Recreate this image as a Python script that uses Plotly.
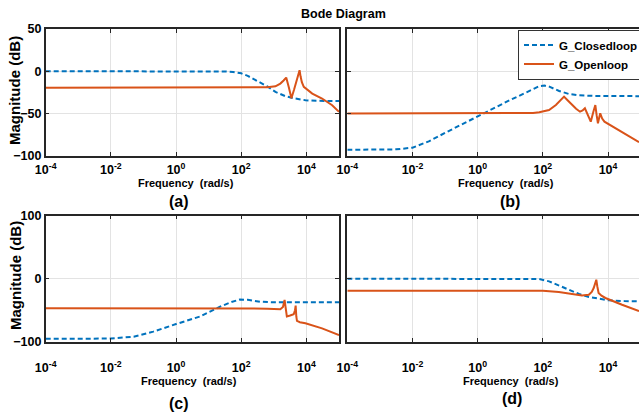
import numpy as np
import plotly.graph_objects as go

# ---- data: log10(frequency in rad/s) and magnitude in dB for each panel ----
# (a)
a_closed_lf = [-4, 1.0, 1.5, 1.75, 2.0, 2.2, 2.4, 2.6, 2.8, 3.05, 3.36, 3.66, 3.97, 4.3, 5.0]
a_closed_db = [0, 0, -0.3, -1, -2.5, -5.5, -9.5, -13.5, -18, -24.5, -29.6, -32.3, -34.3, -35, -35.3]
a_open_lf = [-4, 2.5, 2.8, 3.05, 3.2, 3.3, 3.38, 3.46, 3.54, 3.62, 3.70, 3.76, 3.79,
             3.82, 3.86, 3.92, 4.05, 4.18, 4.48, 4.79, 5.0]
a_open_db = [-19.5, -19.5, -19, -17.8, -14.6, -11, -7.5, -19, -32, -22, -12, -4, 1.2,
             -6, -13, -18.5, -23, -26.4, -32.3, -40.2, -48]

# (b)
b_closed_lf = [-4, -3, -2.5, -2, -1.5, -1, 0, 1, 1.5, 1.9, 2.05, 2.2, 2.5, 2.8, 3.1, 3.6, 4.95]
b_closed_db = [-93, -93, -92.5, -90.5, -83, -73, -53, -34, -25, -17.5, -17, -18.3, -23.4,
               -27, -28.5, -29.3, -29.5]
b_open_lf = [-4, 1.3, 1.7, 1.89, 2.19, 2.4, 2.55, 2.65, 2.75, 2.89, 3.02, 3.14, 3.22, 3.29,
             3.38, 3.47, 3.55, 3.61, 3.65, 3.69, 3.76, 3.82, 3.89, 4.1, 4.39, 4.86, 4.95]
b_open_db = [-50, -50, -49.5, -48.6, -45.9, -40, -33.5, -30.1, -34, -40, -44.5, -47.9, -46.5,
             -43.9, -53, -59.7, -48, -40, -52, -61.6, -49.8, -56, -59.7, -64.5, -71.6, -82.6, -84]

# (c)
c_closed_lf = [-4, -2, -1.3, -0.7, 0, 0.74, 1.35, 1.7, 1.96, 2.2, 2.58, 3.0, 5.0]
c_closed_db = [-95.5, -95, -92, -84, -72, -60, -44.4, -37, -33, -33.5, -36.5, -37.5, -37.5]
c_open_lf = [-4, 2.0, 2.8, 3.2, 3.28, 3.33, 3.36, 3.40, 3.5, 3.61, 3.65, 3.67, 3.69, 3.71,
             3.8, 3.97, 4.48, 5.0]
c_open_db = [-47, -47, -47.5, -48.6, -45, -33.8, -50, -60, -58.5, -56.5, -50, -42.8, -60, -67,
             -69, -70.8, -78.8, -89.6]

# (d)
d_closed_lf = [-4, 1.5, 1.89, 2.19, 2.49, 2.8, 3.11, 3.41, 3.72, 4.03, 4.5, 4.95]
d_closed_db = [0, 0, -0.5, -4.2, -10.6, -17.5, -24.3, -29, -32.3, -34.4, -35.5, -36]
d_open_lf = [-4, 2.0, 2.49, 2.89, 3.2, 3.41, 3.5, 3.56, 3.61, 3.64, 3.67, 3.71, 3.8, 3.92,
             4.43, 4.91, 4.95]
d_open_db = [-19, -19, -21.2, -24.3, -26.5, -25.4, -21, -14.8, -7, -1.6, -12, -22.7, -27,
             -30.6, -41.3, -50.8, -51.5]

freq_ticks = [1e-4, 1e-2, 1e0, 1e2, 1e4]
freq_ticktext = ["10<sup>-4</sup>", "10<sup>-2</sup>", "10<sup>0</sup>",
                 "10<sup>2</sup>", "10<sup>4</sup>"]
series_names = ["G_Closedloop", "G_Openloop"]
panel_labels = ["(a)", "(b)", "(c)", "(d)"]

BLUE = "#0072BD"
ORANGE = "#D95319"
AXC = "#262626"
GRID = "#e3e3e3"
FONT = "Liberation Sans, Arial, sans-serif"

W, H = 639, 419


def px(x):
    return x / W


def py(y):
    return 1 - y / H


panels = [
    (a_closed_lf, a_closed_db, a_open_lf, a_open_db),
    (b_closed_lf, b_closed_db, b_open_lf, b_open_db),
    (c_closed_lf, c_closed_db, c_open_lf, c_open_db),
    (d_closed_lf, d_closed_db, d_open_lf, d_open_db),
]

fig = go.Figure()
for i, (clf, cdb, olf, odb) in enumerate(panels):
    xa = "x" if i == 0 else f"x{i + 1}"
    ya = "y" if i == 0 else f"y{i + 1}"
    show = i == 1
    fig.add_trace(go.Scatter(
        x=np.power(10.0, clf), y=cdb, mode="lines", name=series_names[0],
        line=dict(color=BLUE, width=2, dash="5px,3px"),
        xaxis=xa, yaxis=ya, showlegend=show, legendrank=1))
    fig.add_trace(go.Scatter(
        x=np.power(10.0, olf), y=odb, mode="lines", name=series_names[1],
        line=dict(color=ORANGE, width=2),
        xaxis=xa, yaxis=ya, showlegend=show, legendrank=2))

# panel boxes in pixels: (left, right, top, bottom)
boxes = [
    (45.7, 339.0, 29.0, 155.7),
    (347.3, 639.0, 29.0, 155.7),
    (45.7, 339.0, 215.7, 341.7),
    (347.3, 639.0, 215.7, 341.7),
]
xranges = [[-4, 5], [-4, 4.95], [-4, 5], [-4, 4.95]]
yranges = [[-100, 50], [-100, 50], [-100, 100], [-100, 100]]
yticks = [[-100, -50, 0, 50], [-100, -50, 0, 50], [-100, 0, 100], [-100, 0, 100]]

layout = {}
for i, (l, r, t, b) in enumerate(boxes):
    xk = "xaxis" if i == 0 else f"xaxis{i + 1}"
    yk = "yaxis" if i == 0 else f"yaxis{i + 1}"
    xa = "x" if i == 0 else f"x{i + 1}"
    ya = "y" if i == 0 else f"y{i + 1}"
    left_col = i in (0, 2)
    layout[xk] = dict(
        type="log", range=xranges[i], domain=[px(l), min(px(r), 1.0)], anchor=ya,
        tickvals=freq_ticks, ticktext=freq_ticktext,
        showgrid=True, gridcolor=GRID, gridwidth=1,
        showline=True, linecolor=AXC, linewidth=1.5, mirror="ticks",
        ticks="inside", ticklen=4, tickcolor=AXC, tickwidth=1,
        tickfont=dict(family=FONT, size=12.5, color="#000", weight="bold"),
        ticklabelstandoff=2 if i < 2 else 14,
        automargin=False, zeroline=False)
    layout[yk] = dict(
        range=yranges[i], domain=[py(b), py(t)], anchor=xa,
        tickvals=yticks[i], showticklabels=left_col,
        showgrid=True, gridcolor=GRID, gridwidth=1,
        showline=True, linecolor=AXC, linewidth=1.5,
        mirror="ticks" if left_col else False,
        ticks="inside", ticklen=4, tickcolor=AXC, tickwidth=1,
        tickfont=dict(family=FONT, size=12.5, color="#000", weight="bold"),
        automargin=False, zeroline=False)

annotations = [
    dict(text="Bode Diagram", x=px(343), y=py(14),
         font=dict(family=FONT, size=12.5, color="#000", weight="bold")),
    dict(text="Magnitude (dB)", x=px(15), y=py(91), textangle=-90,
         font=dict(family=FONT, size=15, color="#000", weight="bold")),
    dict(text="Magnitude (dB)", x=px(15), y=py(276), textangle=-90,
         font=dict(family=FONT, size=15, color="#000", weight="bold")),
]
for (fx, fy) in [(186, 183), (506, 183), (189, 381), (511, 381)]:
    annotations.append(dict(text="Frequency\u00a0 (rad/s)", x=px(fx), y=py(fy),
                            font=dict(family=FONT, size=11, color="#000", weight="bold")))
for lab, (lx, ly) in zip(panel_labels, [(179, 201), (510, 201), (179, 403), (512, 398)]):
    annotations.append(dict(text=lab, x=px(lx), y=py(ly),
                            font=dict(family=FONT, size=16, color="#000", weight="bold")))
for ann in annotations:
    ann.update(xref="paper", yref="paper", showarrow=False, xanchor="center", yanchor="middle")

fig.update_layout(
    width=W, height=H,
    margin=dict(l=0, r=0, t=0, b=0, autoexpand=False),
    paper_bgcolor="white", plot_bgcolor="white",
    showlegend=True,
    legend=dict(x=px(518), y=py(29.5), xanchor="left", yanchor="top",
                bgcolor="white", bordercolor="#333", borderwidth=1,
                font=dict(family=FONT, size=11.5, color="#000", weight="bold"),
                tracegroupgap=0, itemwidth=30),
    annotations=annotations,
    **layout,
)

fig.write_html("out.html")
